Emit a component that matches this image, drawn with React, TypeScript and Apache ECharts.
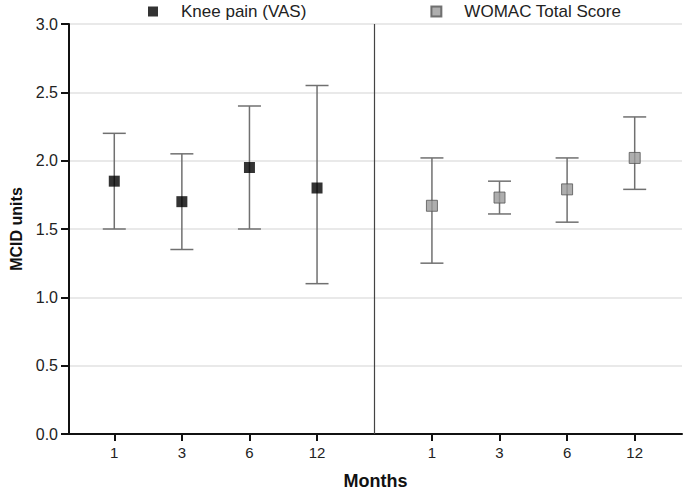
import React, { useEffect, useRef } from "react";
import * as echarts from "echarts";

const months = ["1", "3", "6", "12"];
const kneeMean = [1.85, 1.7, 1.95, 1.8];
const kneeLow = [1.5, 1.35, 1.5, 1.1];
const kneeHigh = [2.2, 2.05, 2.4, 2.55];
const womacMean = [1.67, 1.73, 1.79, 2.02];
const womacLow = [1.25, 1.61, 1.55, 1.79];
const womacHigh = [2.02, 1.85, 2.02, 2.32];
const yTicks = [0, 0.5, 1, 1.5, 2, 2.5, 3];

const GROUP_GAP = 1.7;
const leftPos = months.map((_, i) => i + 1);
const rightPos = months.map((_, i) => i + months.length + GROUP_GAP);
const sepPos = (leftPos[leftPos.length - 1] + rightPos[0]) / 2;
const allPos = [...leftPos, ...rightPos];
const allLabels = [...months, ...months];

function errorSeries(pos: number[], low: number[], high: number[]) {
  return {
    type: "custom",
    silent: true,
    z: 2,
    data: pos.map((p, i) => [p, low[i], high[i]]),
    renderItem: (params: any, api: any) => {
      const x = api.value(0);
      const lo = api.coord([x, api.value(1)]);
      const hi = api.coord([x, api.value(2)]);
      const half = 11.5;
      const style = { stroke: "#707070", lineWidth: 1.5 };
      return {
        type: "group",
        children: [
          { type: "line", shape: { x1: lo[0], y1: lo[1], x2: hi[0], y2: hi[1] }, style },
          { type: "line", shape: { x1: lo[0] - half, y1: lo[1], x2: lo[0] + half, y2: lo[1] }, style },
          { type: "line", shape: { x1: hi[0] - half, y1: hi[1], x2: hi[0] + half, y2: hi[1] }, style },
        ],
      };
    },
  };
}

export default function App() {
  const ref = useRef<HTMLDivElement>(null);
  useEffect(() => {
    if (!ref.current) return;
    const chart = echarts.init(ref.current, null, { renderer: "svg" });
    const font = "Liberation Sans, Arial, sans-serif";
    chart.setOption({
      animation: false,
      backgroundColor: "#ffffff",
      textStyle: { fontFamily: font },
      legend: {
        left: 148,
        top: 3,
        padding: 0,
        itemWidth: 10,
        itemHeight: 10,
        itemGap: 124,
        icon: "rect",
        formatter: (name: string) => `{s|}${name}`,
        textStyle: {
          fontSize: 17,
          color: "#222",
          fontFamily: font,
          rich: { s: { width: 18 } },
        },
        data: ["Knee pain (VAS)", "WOMAC Total Score"],
      },
      grid: {
        left: 69,
        right: 7,
        top: 24,
        bottom: 58,
        containLabel: false,
        outerBoundsMode: "none",
      },
      xAxis: {
        type: "value",
        min: 0.33,
        max: 9.4,
        name: "Months",
        nameLocation: "middle",
        nameGap: 38,
        nameTextStyle: { fontSize: 18, fontWeight: "bold", color: "#111", fontFamily: font },
        axisLine: { show: true, onZero: false, lineStyle: { color: "#111", width: 2 } },
        axisTick: { show: true, customValues: allPos, length: 7, lineStyle: { color: "#111", width: 2 } },
        axisLabel: {
          customValues: allPos,
          fontSize: 15,
          color: "#222",
          margin: 11,
          formatter: (v: number) => {
            const i = allPos.findIndex((p) => Math.abs(p - v) < 1e-6);
            return i >= 0 ? allLabels[i] : "";
          },
        },
        splitLine: { show: false },
      },
      yAxis: {
        type: "value",
        min: 0,
        max: 3,
        interval: 0.5,
        name: "MCID units",
        nameLocation: "middle",
        nameGap: 36,
        nameTextStyle: { fontSize: 16, fontWeight: "bold", color: "#111", fontFamily: font },
        axisLine: { show: true, lineStyle: { color: "#111", width: 2 } },
        axisTick: { show: true, length: 8, lineStyle: { color: "#111", width: 2 } },
        axisLabel: {
          fontSize: 16,
          color: "#222",
          margin: 11,
          customValues: yTicks,
          formatter: (v: number) => v.toFixed(1),
        },
        splitLine: { show: true, lineStyle: { color: "#e2e2e2", width: 1.5 } },
      },
      series: [
        errorSeries(leftPos, kneeLow, kneeHigh),
        errorSeries(rightPos, womacLow, womacHigh),
        {
          name: "Knee pain (VAS)",
          type: "scatter",
          z: 3,
          symbol: "rect",
          symbolSize: 11,
          itemStyle: { color: "#000000" },
          data: leftPos.map((p, i) => [p, kneeMean[i]]),
          markLine: {
            silent: true,
            symbol: "none",
            label: { show: false },
            lineStyle: { color: "#444", width: 1.2, type: "solid" },
            data: [{ xAxis: sepPos }],
          },
        },
        {
          name: "WOMAC Total Score",
          type: "scatter",
          z: 3,
          symbol: "rect",
          symbolSize: 11,
          itemStyle: { color: "#9a9a9a", borderColor: "#555", borderWidth: 1 },
          data: rightPos.map((p, i) => [p, womacMean[i]]),
        },
      ],
    });
    return () => chart.dispose();
  }, []);
  return (
    <div
      ref={ref}
      style={{ position: "absolute", left: 0, top: 0, width: 689, height: 492 }}
    />
  );
}
